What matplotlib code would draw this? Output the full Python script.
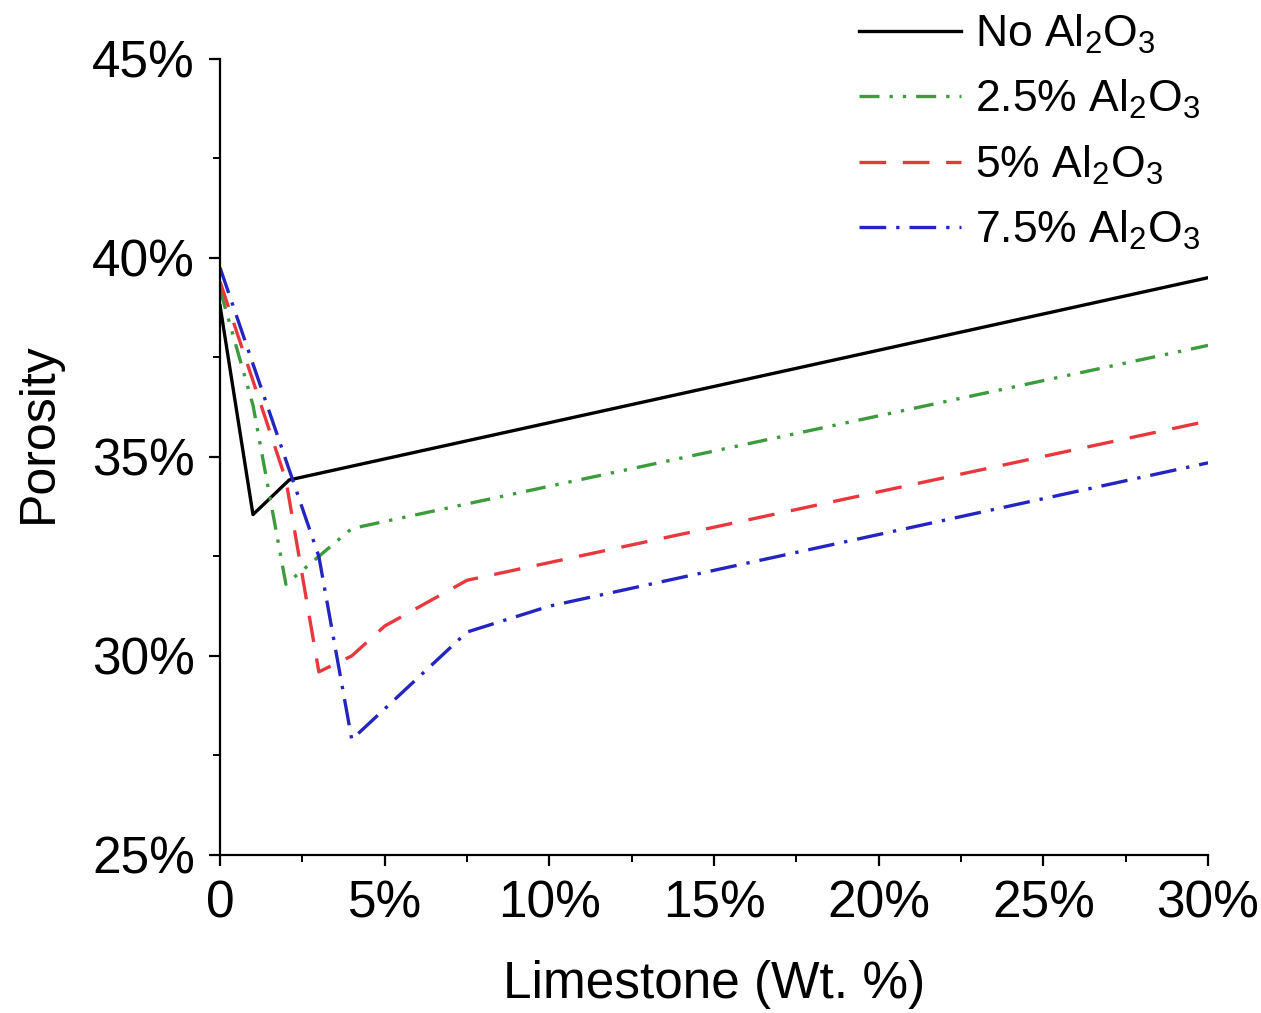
import matplotlib
matplotlib.use("Agg")
import matplotlib.pyplot as plt
from matplotlib.ticker import MultipleLocator, FuncFormatter

plt.rcParams['font.family'] = ['Liberation Sans', 'DejaVu Sans']
plt.rcParams['mathtext.fontset'] = 'custom'
plt.rcParams['mathtext.rm'] = 'Liberation Sans'
plt.rcParams['mathtext.it'] = 'Liberation Sans'

# limestone content (wt. %) and porosity (%) for each alumina level
x_none = [0, 1, 2.1, 30]
p_none = [38.8, 33.55, 34.42, 39.5]

x_25 = [0, 1, 2, 4, 30]
p_25 = [39.2, 36.3, 31.8, 33.2, 37.8]

x_5 = [0, 2, 3, 4, 5, 7.5, 30]
p_5 = [39.4, 34.42, 29.6, 30.0, 30.75, 31.9, 35.9]

x_75 = [0, 3, 4, 7.5, 10, 30]
p_75 = [39.75, 32.5, 27.9, 30.6, 31.25, 34.85]

labels = ['No Al$_\\mathregular{2}$O$_\\mathregular{3}$',
          '2.5% Al$_\\mathregular{2}$O$_\\mathregular{3}$',
          '5% Al$_\\mathregular{2}$O$_\\mathregular{3}$',
          '7.5% Al$_\\mathregular{2}$O$_\\mathregular{3}$']

fig = plt.figure(figsize=(12.61, 10.13), dpi=100)
ax = fig.add_axes([0.1745, 0.156, 0.7835, 0.786])

lw = 2.4
ax.plot(x_none, p_none, color='black', lw=lw, label=labels[0])
ax.plot(x_25, p_25, color='#3c9b3c', lw=lw, linestyle=(0, (6, 3, 1, 3, 1, 3)), label=labels[1])
ax.plot(x_5, p_5, color='#e8383d', lw=lw, linestyle=(0, (8, 5)), label=labels[2])
ax.plot(x_75, p_75, color='#2424c0', lw=lw, linestyle=(0, (8, 3, 1, 3)), label=labels[3])

ax.set_xlim(0, 30)
ax.set_ylim(25, 45)
ax.spines['top'].set_visible(False)
ax.spines['right'].set_visible(False)
for s in ('left', 'bottom'):
    ax.spines[s].set_linewidth(1.6)

ax.xaxis.set_major_locator(MultipleLocator(5))
ax.xaxis.set_minor_locator(MultipleLocator(2.5))
ax.yaxis.set_major_locator(MultipleLocator(5))
ax.yaxis.set_minor_locator(MultipleLocator(2.5))
ax.xaxis.set_major_formatter(FuncFormatter(lambda v, _: '0' if v == 0 else f'{v:.0f}%'))
ax.yaxis.set_major_formatter(FuncFormatter(lambda v, _: f'{v:.0f}%'))

ax.tick_params(which='major', direction='out', length=8, width=1.6, labelsize=37, pad=10)
ax.tick_params(which='minor', direction='out', length=5, width=1.4)

ax.set_xlabel('Limestone (Wt. %)', fontsize=37, labelpad=22)
ax.set_ylabel('Porosity', fontsize=36)
ax.yaxis.set_label_coords(-0.16, 0.53)

leg = fig.legend(loc='upper right', bbox_to_anchor=(0.955, 0.992), frameon=False,
                 fontsize=32, handlelength=2.3, handletextpad=0.3, labelspacing=0.5,
                 borderaxespad=0.0, borderpad=0.1)

fig.savefig('out.png', dpi=100)
